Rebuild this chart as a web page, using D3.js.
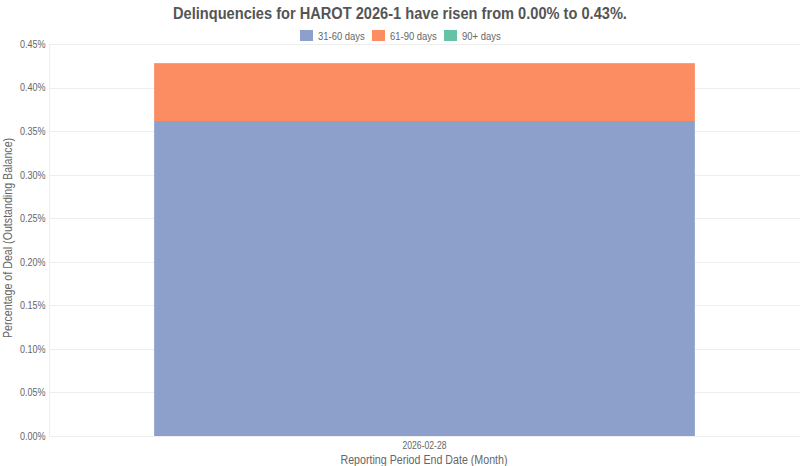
<!DOCTYPE html>
<html>
<head>
<meta charset="utf-8">
<script src="https://cdn.jsdelivr.net/npm/d3@7"></script>
<style>
 body { margin: 0; background: #fff; font-family: "Liberation Sans", Arial, sans-serif; }
 svg text { fill: #666; }
</style>
</head>
<body>
<svg width="800" height="466"></svg>
<script>
// Data.
var months = ['2026-02-28'];
var seriesNames = ['31-60 days', '61-90 days', '90+ days'];
var days31to60 = [0.3616];
var days61to90 = [0.0655];
var days90plus = [0.0009];
var yTicks = [0, 0.05, 0.10, 0.15, 0.20, 0.25, 0.30, 0.35, 0.40, 0.45];
var colors = ['#8da0cb', '#fc8d62', '#66c2a5'];

var rows = months.map(function(m, i) {
 return {month: m, '31-60 days': days31to60[i], '61-90 days': days61to90[i], '90+ days': days90plus[i]};
});

// the reference font is a bit narrower than Liberation Sans
var squeeze = 0.86;
var squeezeTitle = 0.79;

var svg = d3.select('svg');
var margin = {top: 44, right: 0, bottom: 30, left: 49};
var width = 800 - margin.left - margin.right;
var height = 436 - margin.top;

var x = d3.scaleBand()
 .domain(months)
 .range([0, width])
 .paddingInner(0.28)
 .paddingOuter(0.14);

var y = d3.scaleLinear()
 .domain([0, 0.45])
 .range([height, 0]);

var color = d3.scaleOrdinal().domain(seriesNames).range(colors);

var g = svg.append('g').attr('transform', 'translate(' + margin.left + ',' + margin.top + ')');

// Grid lines
g.append('g')
 .selectAll('line')
 .data(yTicks)
 .enter().append('line')
 .attr('x1', 0)
 .attr('x2', width)
 .attr('y1', function(d) { return Math.round(y(d)) + 0.5; })
 .attr('y2', function(d) { return Math.round(y(d)) + 0.5; })
 .attr('stroke', '#eeeeee');

// y axis
var yAxis = g.append('g')
 .call(d3.axisLeft(y).tickValues(yTicks).tickSize(0).tickPadding(4)
 .tickFormat(function(d) { return d.toFixed(2) + '%'; }));
yAxis.select('.domain').attr('stroke', '#eeeeee');
yAxis.selectAll('text')
 .style('font-size', '10.5px')
 .style('fill', '#666')
 .attr('transform', 'scale(' + squeeze + ',1)');

// x axis
var xAxis = g.append('g')
 .attr('transform', 'translate(0,' + height + ')')
 .call(d3.axisBottom(x).tickSize(0).tickPadding(6));
xAxis.select('.domain').remove();
xAxis.selectAll('text')
 .style('font-size', '10px')
 .style('fill', '#666')
 .attr('transform', 'scale(' + squeeze + ',1)');

// Stacked bars
var stack = d3.stack().keys(seriesNames);
g.append('g')
 .selectAll('g')
 .data(stack(rows))
 .enter().append('g')
 .attr('fill', function(d) { return color(d.key); })
 .selectAll('rect')
 .data(function(d) { return d; })
 .enter().append('rect')
 .attr('x', function(d) { return x(d.data.month); })
 .attr('width', x.bandwidth())
 .attr('y', function(d) { return y(d[1]); })
 .attr('height', function(d) { return y(d[0]) - y(d[1]); });

// Title
svg.append('text')
 .attr('transform', 'translate(400,19) scale(' + squeeze + ',1)')
 .attr('text-anchor', 'middle')
 .style('font-size', '17px')
 .style('font-weight', 'bold')
 .style('fill', '#555')
 .text('Delinquencies for HAROT 2026-1 have risen from 0.00% to 0.43%.');

// Legend
var legendX = [300, 372, 444];
var legend = svg.append('g')
 .selectAll('g')
 .data(seriesNames)
 .enter().append('g')
 .attr('transform', function(d, i) { return 'translate(' + legendX[i] + ',30)'; });
legend.append('rect')
 .attr('width', 13)
 .attr('height', 11)
 .attr('fill', function(d) { return color(d); });
legend.append('text')
 .attr('transform', 'translate(18,9.5) scale(' + squeeze + ',1)')
 .style('font-size', '11px')
 .style('fill', '#666')
 .text(function(d) { return d; });

// Axis titles
svg.append('text')
 .attr('transform', 'translate(424,464) scale(' + squeezeTitle + ',1)')
 .attr('text-anchor', 'middle')
 .style('font-size', '13.5px')
 .text('Reporting Period End Date (Month)');

svg.append('text')
 .attr('transform', 'translate(12,' + (margin.top + height / 2 - 2) + ') rotate(-90) scale(' + squeezeTitle + ',1)')
 .attr('text-anchor', 'middle')
 .style('font-size', '13.5px')
 .text('Percentage of Deal (Outstanding Balance)');
</script>
</body>
</html>
